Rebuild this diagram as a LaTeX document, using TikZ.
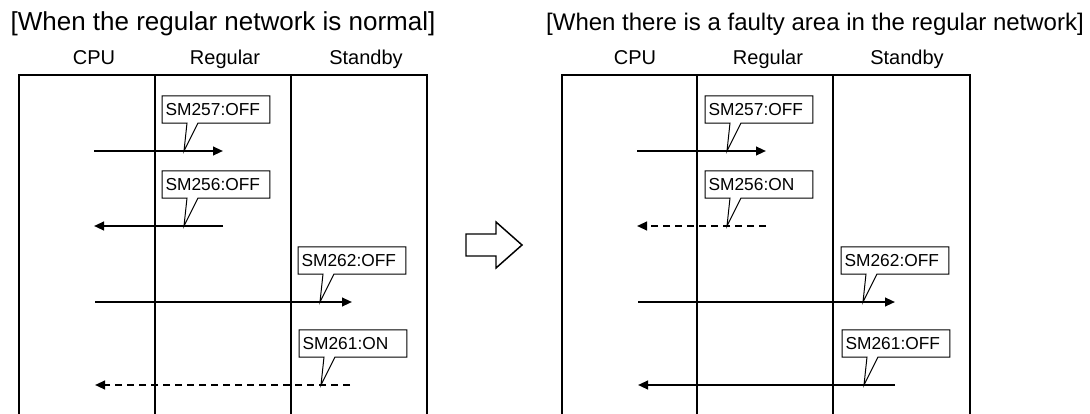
\documentclass[tikz,border=0pt]{standalone}
\usepackage{fontspec}
\setmainfont{Liberation Sans}
\usetikzlibrary{positioning, arrows.meta, calc}

\begin{document}
\begin{tikzpicture}[x=0.75pt, y=-0.75pt, >={Triangle[length=7.5pt, width=6.5pt]},
    every node/.style={font=\fontsize{15}{18}\selectfont},
    lane/.style={line width=1.5pt},
    msg/.style={line width=1.5pt},
    flag/.style={inner xsep=2.5pt, inner ysep=0pt, text width=75.5pt, minimum height=20pt, align=left, font=\fontsize{13}{15}\selectfont},
    flagline/.style={line width=0.75pt, line join=miter}]
    \useasboundingbox (0,0) rectangle (1090,414);

    % Left: regular network normal
    \node [anchor=base, font=\fontsize{19.5}{22}\selectfont] (titleA) at (223,31) {[When the regular network is normal]};
    \node [anchor=base] (cpuA) at (94,64) {CPU};
    \node [anchor=base] (regA) at (225,64) {Regular};
    \node [anchor=base] (stbA) at (366,64) {Standby};
    \draw [lane] (19,414) |- (427,75) -- (427,414);
    \draw [lane] (155,75) -- (155,414);
    \draw [lane] (291,75) -- (291,414);

    % Left: signals
    \coordinate (a1s) at (94,151);  \coordinate (a1e) at (223,151); \coordinate (a1t) at (184,151);
    \coordinate (a2s) at (223,226); \coordinate (a2e) at (94,226);  \coordinate (a2t) at (184,226);
    \coordinate (a3s) at (95,302);  \coordinate (a3e) at (352,302); \coordinate (a3t) at (320,302);
    \coordinate (a4s) at (350,385); \coordinate (a4e) at (95,385);  \coordinate (a4t) at (321,385);
    \draw [msg, ->] (a1s) -- (a1e);
    \draw [msg, ->] (a2s) -- (a2e);
    \draw [msg, ->] (a3s) -- (a3e);
    \draw [msg, ->, dash pattern=on 5.5pt off 3.5pt] (a4s) -- (a4e);

    % Left: relay flags
    \node [flag, above right=21pt and -16.5pt of a1t] (fa1) {SM257:OFF};
    \node [flag, above right=21pt and -16.5pt of a2t] (fa2) {SM256:OFF};
    \node [flag, above right=21pt and -16.5pt of a3t] (fa3) {SM262:OFF};
    \node [flag, above right=21pt and -16.5pt of a4t] (fa4) {SM261:ON};
    \draw [flagline] ($(fa1.south west)+(25,0)$) -- (a1t) -- ($(fa1.south west)+(36,0)$) -- (fa1.south east) |- (fa1.north west) -- (fa1.south west) -- cycle;
    \draw [flagline] ($(fa2.south west)+(25,0)$) -- (a2t) -- ($(fa2.south west)+(36,0)$) -- (fa2.south east) |- (fa2.north west) -- (fa2.south west) -- cycle;
    \draw [flagline] ($(fa3.south west)+(25,0)$) -- (a3t) -- ($(fa3.south west)+(36,0)$) -- (fa3.south east) |- (fa3.north west) -- (fa3.south west) -- cycle;
    \draw [flagline] ($(fa4.south west)+(25,0)$) -- (a4t) -- ($(fa4.south west)+(36,0)$) -- (fa4.south east) |- (fa4.north west) -- (fa4.south west) -- cycle;

    % Transition arrow
    \draw [line width=1.1pt] (466,234) -- (496,234) -- (496,222) -- (522,245) -- (496,268) -- (496,256) -- (466,256) -- cycle;

    % Right: faulty area in regular network
    \node [anchor=base, font=\fontsize{18}{21}\selectfont] (titleB) at (815,31) {[When there is a faulty area in the regular network]};
    \node [anchor=base] (cpuB) at (635,64) {CPU};
    \node [anchor=base] (regB) at (768,64) {Regular};
    \node [anchor=base] (stbB) at (907,64) {Standby};
    \draw [lane] (562,414) |- (970,75) -- (970,414);
    \draw [lane] (697,75) -- (697,414);
    \draw [lane] (833,75) -- (833,414);

    % Right: signals
    \coordinate (b1s) at (637,151); \coordinate (b1e) at (766,151); \coordinate (b1t) at (727,151);
    \coordinate (b2s) at (766,226); \coordinate (b2e) at (637,226); \coordinate (b2t) at (727,226);
    \coordinate (b3s) at (638,302); \coordinate (b3e) at (895,302); \coordinate (b3t) at (863,302);
    \coordinate (b4s) at (895,385); \coordinate (b4e) at (638,385); \coordinate (b4t) at (864,385);
    \draw [msg, ->] (b1s) -- (b1e);
    \draw [msg, ->, dash pattern=on 5.5pt off 3.5pt] (b2s) -- (b2e);
    \draw [msg, ->] (b3s) -- (b3e);
    \draw [msg, ->] (b4s) -- (b4e);

    % Right: relay flags
    \node [flag, above right=21pt and -16.5pt of b1t] (fb1) {SM257:OFF};
    \node [flag, above right=21pt and -16.5pt of b2t] (fb2) {SM256:ON};
    \node [flag, above right=21pt and -16.5pt of b3t] (fb3) {SM262:OFF};
    \node [flag, above right=21pt and -16.5pt of b4t] (fb4) {SM261:OFF};
    \draw [flagline] ($(fb1.south west)+(25,0)$) -- (b1t) -- ($(fb1.south west)+(36,0)$) -- (fb1.south east) |- (fb1.north west) -- (fb1.south west) -- cycle;
    \draw [flagline] ($(fb2.south west)+(25,0)$) -- (b2t) -- ($(fb2.south west)+(36,0)$) -- (fb2.south east) |- (fb2.north west) -- (fb2.south west) -- cycle;
    \draw [flagline] ($(fb3.south west)+(25,0)$) -- (b3t) -- ($(fb3.south west)+(36,0)$) -- (fb3.south east) |- (fb3.north west) -- (fb3.south west) -- cycle;
    \draw [flagline] ($(fb4.south west)+(25,0)$) -- (b4t) -- ($(fb4.south west)+(36,0)$) -- (fb4.south east) |- (fb4.north west) -- (fb4.south west) -- cycle;
\end{tikzpicture}
\end{document}
